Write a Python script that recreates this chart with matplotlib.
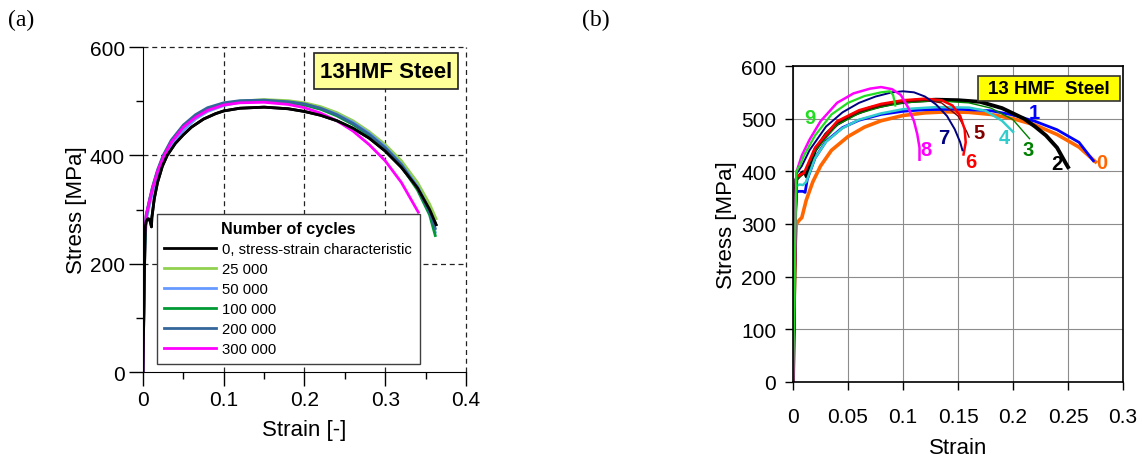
import matplotlib
matplotlib.use('Agg')
import matplotlib.pyplot as plt
from matplotlib.patches import Rectangle

plt.rcParams['font.family'] = ['Liberation Sans', 'DejaVu Sans']

# ---- panel (a): tensile curves after fatigue pre-loading ----
a_labels = ['0, stress-strain characteristic', '25 000', '50 000',
            '100 000', '200 000', '300 000']
a_colors = ['#000000', '#92d050', '#6699ff', '#009933', '#336699', '#ff00ff']

a_strain_0 = [0, 0.002, 0.003, 0.004, 0.006, 0.008, 0.0095, 0.0105, 0.011, 0.014,
              0.018, 0.024, 0.03, 0.04, 0.05, 0.06, 0.075, 0.09, 0.1, 0.12, 0.15,
              0.18, 0.2, 0.22, 0.24, 0.26, 0.28, 0.3, 0.32, 0.34, 0.355, 0.363]
a_stress_0 = [0, 200, 270, 278, 283, 282, 275, 268, 285, 320,
              350, 380, 400, 422, 438, 452, 467, 477, 482, 487, 489,
              486, 481, 474, 464, 450, 432, 408, 378, 340, 300, 272]

a_strain_25k = [0, 0.002, 0.004, 0.008, 0.012, 0.018, 0.025, 0.035, 0.05, 0.065,
                0.08, 0.1, 0.12, 0.15, 0.18, 0.2, 0.22, 0.24, 0.26, 0.28, 0.3,
                0.32, 0.34, 0.355, 0.363]
a_stress_25k = [0, 230, 285, 312, 336, 366, 393, 421, 450, 470,
                484, 494, 500, 503, 501, 497, 490, 479, 464, 444, 420,
                390, 350, 310, 283]

a_strain_50k = [0, 0.002, 0.004, 0.008, 0.012, 0.018, 0.025, 0.035, 0.05, 0.065,
                0.08, 0.1, 0.12, 0.15, 0.18, 0.2, 0.22, 0.24, 0.26, 0.28, 0.3,
                0.32, 0.34, 0.355, 0.362]
a_stress_50k = [0, 220, 280, 308, 332, 362, 390, 418, 446, 467,
                481, 492, 498, 500, 498, 494, 487, 476, 461, 441, 416,
                384, 343, 298, 258]

a_strain_100k = [0, 0.002, 0.004, 0.008, 0.012, 0.018, 0.025, 0.035, 0.05, 0.065,
                 0.08, 0.1, 0.12, 0.15, 0.18, 0.2, 0.22, 0.24, 0.26, 0.28, 0.3,
                 0.32, 0.34, 0.355, 0.362]
a_stress_100k = [0, 235, 288, 316, 341, 371, 398, 426, 454, 473,
                 486, 495, 499, 500, 497, 493, 485, 473, 457, 437, 412,
                 380, 336, 290, 252]

a_strain_200k = [0, 0.002, 0.004, 0.008, 0.012, 0.018, 0.025, 0.035, 0.05, 0.065,
                 0.08, 0.1, 0.12, 0.15, 0.18, 0.2, 0.22, 0.24, 0.26, 0.28, 0.3,
                 0.32, 0.34, 0.355, 0.362]
a_stress_200k = [0, 240, 290, 318, 343, 373, 400, 428, 456, 475,
                 488, 497, 501, 502, 499, 495, 487, 475, 459, 439, 414,
                 383, 340, 295, 265]

a_strain_300k = [0, 0.001, 0.002, 0.004, 0.008, 0.012, 0.018, 0.025, 0.035, 0.05,
                 0.065, 0.08, 0.1, 0.12, 0.15, 0.18, 0.2, 0.22, 0.24, 0.26, 0.28,
                 0.3, 0.32, 0.341]
a_stress_300k = [0, 150, 250, 290, 315, 340, 370, 396, 424, 452,
                 470, 483, 493, 497, 498, 494, 488, 478, 464, 445, 420,
                 390, 350, 295]

a_strains = [a_strain_0, a_strain_25k, a_strain_50k, a_strain_100k, a_strain_200k, a_strain_300k]
a_stresses = [a_stress_0, a_stress_25k, a_stress_50k, a_stress_100k, a_stress_200k, a_stress_300k]

a_xticks = [0, 0.1, 0.2, 0.3, 0.4]
a_xticklabels = ['0', '0.1', '0.2', '0.3', '0.4']
a_yticks = [0, 200, 400, 600]
a_yticklabels = ['0', '200', '400', '600']

# ---- panel (b): tensile curves of specimens 0..9 ----
b_names = ['0', '1', '2', '3', '4', '5', '6', '7', '8', '9']
b_colors = ['#ff6600', '#0000ff', '#000000', '#008000', '#33cccc',
            '#800000', '#ff0000', '#000080', '#ff00ff', '#22dd22']
b_widths = [2.6, 2.0, 2.8, 1.0, 1.8, 1.0, 1.8, 1.4, 1.8, 1.6]

b_strain = [
    [0, 0.001, 0.002, 0.003, 0.006, 0.008, 0.012, 0.018, 0.025, 0.035, 0.05, 0.065,
     0.08, 0.1, 0.12, 0.14, 0.16, 0.18, 0.2, 0.22, 0.24, 0.26, 0.275],
    [0, 0.002, 0.003, 0.005, 0.009, 0.011, 0.013, 0.02, 0.03, 0.045, 0.06, 0.08,
     0.1, 0.12, 0.15, 0.18, 0.2, 0.22, 0.24, 0.26, 0.273],
    [0, 0.002, 0.003, 0.006, 0.009, 0.011, 0.0125, 0.014, 0.02, 0.03, 0.04, 0.055,
     0.07, 0.09, 0.11, 0.13, 0.15, 0.17, 0.19, 0.2, 0.21, 0.22, 0.23, 0.24, 0.248, 0.25],
    [0, 0.003, 0.01, 0.02, 0.04, 0.06, 0.08, 0.1, 0.13, 0.16, 0.18, 0.2, 0.215],
    [0, 0.002, 0.003, 0.006, 0.009, 0.012, 0.02, 0.03, 0.045, 0.06, 0.08, 0.1,
     0.13, 0.16, 0.175, 0.19, 0.2],
    [0, 0.003, 0.01, 0.02, 0.04, 0.06, 0.08, 0.1, 0.12, 0.135, 0.15, 0.158, 0.16],
    [0, 0.003, 0.01, 0.02, 0.04, 0.06, 0.08, 0.1, 0.12, 0.135, 0.145, 0.152, 0.156,
     0.157, 0.155],
    [0, 0.003, 0.008, 0.015, 0.03, 0.045, 0.06, 0.075, 0.09, 0.1, 0.11, 0.12, 0.13,
     0.14, 0.147, 0.152, 0.154],
    [0, 0.003, 0.008, 0.015, 0.025, 0.04, 0.055, 0.07, 0.08, 0.09, 0.098, 0.105,
     0.11, 0.113, 0.115, 0.115],
    [0, 0.003, 0.006, 0.01, 0.02, 0.035, 0.05, 0.065, 0.08, 0.088, 0.091, 0.093],
]
b_stress = [
    [0, 150, 260, 300, 308, 312, 345, 380, 410, 440, 466, 484,
     496, 506, 511, 513, 512, 508, 500, 488, 470, 446, 418],
    [0, 300, 360, 362, 362, 360, 385, 425, 457, 483, 497, 508,
     514, 517, 518, 515, 507, 495, 479, 455, 420],
    [0, 330, 385, 392, 398, 398, 390, 405, 440, 470, 490, 508,
     520, 529, 534, 536, 535, 532, 520, 510, 500, 485, 468, 445, 415, 408],
    [0, 385, 395, 438, 488, 510, 522, 530, 534, 530, 520, 498, 462],
    [0, 320, 372, 375, 374, 380, 425, 456, 482, 498, 510, 518,
     522, 521, 515, 496, 475],
    [0, 388, 395, 442, 492, 513, 525, 532, 535, 530, 505, 475, 465],
    [0, 390, 397, 445, 495, 516, 528, 535, 538, 535, 525, 505, 480,
     455, 432],
    [0, 395, 410, 440, 485, 512, 530, 542, 550, 552, 550, 542, 527,
     505, 480, 455, 440],
    [0, 398, 430, 460, 495, 530, 548, 557, 560, 556, 545, 520,
     495, 470, 445, 422],
    [0, 400, 410, 430, 468, 508, 530, 543, 550, 552, 545, 525],
]
b_label_x = [0.281, 0.219, 0.240, 0.214, 0.192, 0.169, 0.162, 0.137, 0.121, 0.0155]
b_label_y = [417, 512, 414, 442, 465, 473, 419, 465, 442, 503]

b_xticks = [0, 0.05, 0.1, 0.15, 0.2, 0.25, 0.3]
b_xticklabels = ['0', '0.05', '0.1', '0.15', '0.2', '0.25', '0.3']
b_yticks = [0, 100, 200, 300, 400, 500, 600]
b_yticklabels = ['0', '100', '200', '300', '400', '500', '600']

fig = plt.figure(figsize=(11.42, 4.64), dpi=100)

# ================= (a) =================
ax = fig.add_axes([0.1252, 0.1961, 0.2828, 0.7004])
for xs, ys, c, lab in zip(a_strains, a_stresses, a_colors, a_labels):
    ax.plot(xs, ys, color=c, lw=2.0, label=lab)
# black drawn again on top, as in the original
ax.plot(a_strain_0, a_stress_0, color='#000000', lw=2.0, zorder=3)
ax.set_xlim(0, 0.4)
ax.set_ylim(0, 600)
ax.set_xticks(a_xticks, a_xticklabels)
ax.set_yticks(a_yticks, a_yticklabels)
ax.set_xticks([0.05, 0.15, 0.25, 0.35], minor=True)
ax.set_yticks([100, 300, 500], minor=True)
ax.tick_params(which='major', direction='out', length=10, width=1, labelsize=15, pad=3)
ax.tick_params(which='minor', direction='out', length=5, width=1)
ax.spines['top'].set_visible(False)
ax.spines['right'].set_visible(False)
for v in [0.1, 0.2, 0.3, 0.4]:
    ax.axvline(v, color='#222222', lw=0.9, ls=(0, (4, 3)), clip_on=False, zorder=0)
for v in [200, 400, 600]:
    ax.axhline(v, color='#222222', lw=0.9, ls=(0, (4, 3)), clip_on=False, zorder=0)
ax.set_xlabel('Strain [-]', fontsize=16, labelpad=7)
ax.set_ylabel('Stress [MPa]', fontsize=16, labelpad=2)
ax.add_patch(Rectangle((0.529, 0.871), 0.446, 0.111, transform=ax.transAxes,
                       fc='#ffff99', ec='#222222', lw=1.2, zorder=6))
ax.text(0.752, 0.926, '13HMF Steel', transform=ax.transAxes, ha='center', va='center',
        fontsize=16, fontweight='bold', zorder=7)
leg = ax.legend(loc='upper left', bbox_to_anchor=(0.043, 0.486), borderaxespad=0,
                title='Number of cycles', fontsize=10.7, title_fontsize=11.6,
                fancybox=False, framealpha=1, edgecolor='#404040',
                handlelength=3.5, labelspacing=0.4, borderpad=0.5, handletextpad=0.4)
leg.get_title().set_fontweight('bold')
leg.get_frame().set_linewidth(1.0)
leg.set_zorder(5)
fig.text(0.007, 0.955, '(a)', family='Liberation Serif', fontsize=17, va='center')

# ================= (b) =================
bx = fig.add_axes([0.6944, 0.1746, 0.2890, 0.6810])
for xs, ys, c, w in zip(b_strain, b_stress, b_colors, b_widths):
    bx.plot(xs, ys, color=c, lw=w)
for name, lx, ly, c in zip(b_names, b_label_x, b_label_y, b_colors):
    bx.text(lx, ly, name, color=c, fontsize=14.5, fontweight='bold', ha='center', va='center')
bx.set_xlim(0, 0.3)
bx.set_ylim(0, 600)
bx.set_xticks(b_xticks, b_xticklabels)
bx.set_yticks(b_yticks, b_yticklabels)
bx.grid(True, color='#8c8c8c', lw=0.8)
bx.set_axisbelow(True)
bx.tick_params(direction='out', length=6, width=1, labelsize=15)
bx.tick_params(axis='x', pad=12)
bx.tick_params(axis='y', pad=6)
for s in bx.spines.values():
    s.set_linewidth(1.2)
bx.set_xlabel('Strain', fontsize=16, labelpad=8)
bx.set_ylabel('Stress [MPa]', fontsize=16, labelpad=3)
bx.add_patch(Rectangle((0.561, 0.889), 0.430, 0.079, transform=bx.transAxes,
                       fc='#ffff00', ec='#333333', lw=1.2, zorder=6))
bx.text(0.776, 0.929, '13 HMF  Steel', transform=bx.transAxes, ha='center', va='center',
        fontsize=13.5, fontweight='bold', zorder=7)
fig.text(0.510, 0.955, '(b)', family='Liberation Serif', fontsize=17, va='center')

fig.savefig('out.png', dpi=100)
